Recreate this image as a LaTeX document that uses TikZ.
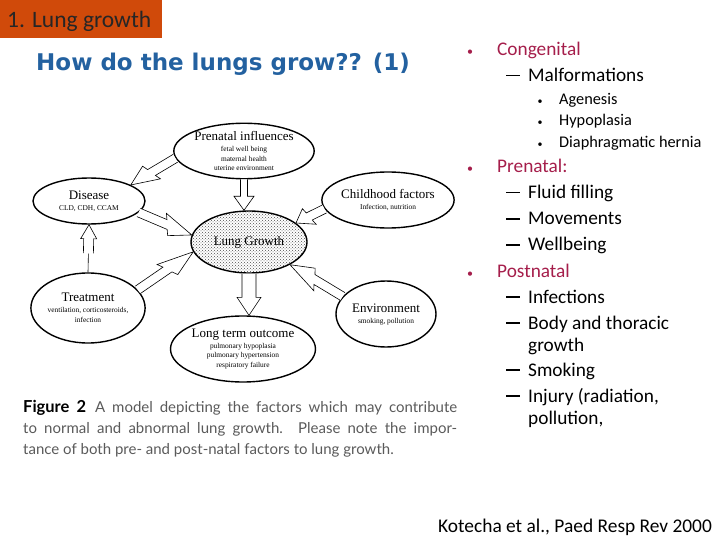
\documentclass[tikz,border=0pt]{standalone}
\usepackage{fontspec}
\setmainfont{Carlito}
\newfontfamily\serif{Liberation Serif}
\newfontfamily\capfont{Lato}
\newfontfamily\ttlfont{DejaVu Sans}
\usetikzlibrary{shapes.geometric,calc,patterns}
\definecolor{boxorange}{RGB}{208,74,10}
\definecolor{titleblue}{RGB}{35,97,160}
\definecolor{crimson}{RGB}{165,30,75}
\definecolor{capgray}{RGB}{90,90,90}
\newcommand\ttlf{\serif\fontsize{13}{13.5}\selectfont}
\newcommand\smlf{\serif\fontsize{7.4}{9.5}\selectfont}
% lightning arrow from tail #1 to tip #2
\newcommand\boltarr[2]{%
  \draw[arr] ($(#1)!4.5pt!90:(#2)$) -- ($(#1)!0.5!(#2)!4.5pt!90:(#2)$) -- ($(#1)!0.45!(#2)!10pt!90:(#2)$) -- (#2)
    -- ($(#1)!0.62!(#2)!10pt!-90:(#2)$) -- ($(#1)!0.57!(#2)!4.5pt!-90:(#2)$) -- ($(#1)!4.5pt!-90:(#2)$);}
% block arrow: tail, tip, shaft half, head half, head length
\newcommand\blockarr[5]{%
  \draw[arr] ($(#1)!#3!90:(#2)$) -- ($(#2)!#5!(#1)!#3!-90:(#1)$) -- ($(#2)!#5!(#1)!#4!-90:(#1)$) -- (#2)
    -- ($(#2)!#5!(#1)!#4!90:(#1)$) -- ($(#2)!#5!(#1)!#3!90:(#1)$) -- ($(#1)!#3!-90:(#2)$);}
\begin{document}
\begin{tikzpicture}[x=1pt,y=-1pt,
  ell/.style={ellipse, draw, line width=1.4pt, inner sep=0pt, align=center, fill=white},
  arr/.style={line width=0.6pt, fill=white, line join=miter},
  lone/.style={anchor=base west, inner sep=0pt, font=\fontsize{19.3}{21}\selectfont},
  bull/.style={anchor=base, inner sep=0pt, font=\fontsize{12}{13}\selectfont},
  sbull/.style={anchor=base, inner sep=0pt, font=\fontsize{10}{11}\selectfont},
  lthree/.style={anchor=base west, inner sep=0pt, font=\fontsize{16.3}{17}\selectfont}]
\useasboundingbox (0,0) rectangle (720,540);

% header
\node[fill=boxorange, minimum width=162pt, minimum height=38pt, inner sep=0pt, anchor=north west] (hbox) at (0,0) {};
\node[anchor=base west, inner sep=0pt, text=black!85, font=\fontsize{23.5}{25}\selectfont] (htext) at (7,27.5) {1. Lung growth};
\node[anchor=base west, inner sep=0pt, text=titleblue, font=\ttlfont\bfseries\fontsize{23}{26}\selectfont] (title) at (36,71) {How do the lungs grow?? (1)};

% diagram
\node[ell, minimum width=126pt, minimum height=54pt] (pre) at (244,151)
  {\ttlf Prenatal influences\\[-1pt] \smlf fetal well being\\[-2.5pt] \smlf maternal health\\[-2.5pt] \smlf uterine environment};
\node[ell, minimum width=112pt, minimum height=46pt] (dis) at (89,201)
  {\ttlf Disease\\[-1pt] \smlf CLD, CDH, CCAM};
\node[ell, minimum width=106pt, minimum height=56pt] (chi) at (388,200)
  {\ttlf Childhood factors\\[-1pt] \smlf Infection, nutrition};
\node[ell, minimum width=116pt, minimum height=62pt, pattern=crosshatch dots, pattern color=black!70] (lung) at (249,242)
  {\ttlf Lung Growth};
\node[ell, minimum width=108pt, minimum height=70pt] (tre) at (88,308)
  {\ttlf Treatment\\[-1pt] \smlf ventilation, corticosteroids,\\[-2.5pt] \smlf infection};
\node[ell, minimum width=100pt, minimum height=66pt] (env) at (386,314)
  {\ttlf Environment\\[-1pt] \smlf smoking, pollution};
\node[ell, minimum width=122pt, minimum height=66pt] (lto) at (243,349)
  {\ttlf Long term outcome\\[-1pt] \smlf pulmonary hypoplasia\\[-2.5pt] \smlf pulmonary hypertension\\[-2.5pt] \smlf respiratory failure};

\boltarr{pre.186}{dis.21}
\blockarr{pre.south}{pre.south |- lung.north}{3.5pt}{10pt}{14pt}
\boltarr{dis.-13}{lung.173}
\boltarr{chi.188}{lung.22}
\boltarr{tre.20}{lung.190}
\boltarr{env.158}{lung.-29}
\blockarr{lung.south}{lung.south |- lto.north}{7pt}{12pt}{18pt}
\coordinate (stem) at ($(tre.north)!0.4!(dis.south)$);
\draw[line width=0.6pt] (tre.north) -- (stem);
\blockarr{stem}{dis.south}{5pt}{8pt}{14pt}

% caption
\node[anchor=north west, inner sep=0pt, text width=434pt, align=justify, text=capgray,
  font=\capfont\fontsize{15}{21}\selectfont] (cap) at (23,400)
  {{\color{black}\bfseries\fontsize{16.5}{21}\selectfont Figure 2}\hspace{9pt}A model depicting the factors which may contribute\linebreak
   to normal and abnormal lung growth. Please note the impor-\linebreak
   tance of both pre- and post-natal factors to lung growth.};

% bullet list
\node[bull, text=crimson] (b1) at (470,56) {•};
\node[lone, text=crimson] (t1) at (497,56) {Congenital};
\node[lone] (d11) at (506,82) {\rule[5.5pt]{14pt}{1.6pt}};
\node[lone] (t11) at (528,82) {Malformations};
\node[sbull] (s1) at (540,105) {•};
\node[lthree] (u1) at (559,105) {Agenesis};
\node[sbull] (s2) at (540,126) {•};
\node[lthree] (u2) at (559,126) {Hypoplasia};
\node[sbull] (s3) at (540,148) {•};
\node[lthree] (u3) at (559,148) {Diaphragmatic hernia};

\node[bull, text=crimson] (b2) at (470,173) {•};
\node[lone, text=crimson] (t2) at (497,173) {Prenatal:};
\node[lone] (d21) at (506,199) {\rule[5.5pt]{14pt}{1.6pt}};
\node[lone] (t21) at (528,199) {Fluid filling};
\node[lone] (d22) at (506,225) {\rule[5.5pt]{14pt}{1.6pt}};
\node[lone] (t22) at (528,225) {Movements};
\node[lone] (d23) at (506,251) {\rule[5.5pt]{14pt}{1.6pt}};
\node[lone] (t23) at (528,251) {Wellbeing};

\node[bull, text=crimson] (b3) at (470,277) {•};
\node[lone, text=crimson] (t3) at (497,277) {Postnatal};
\node[lone] (d31) at (506,303) {\rule[5.5pt]{14pt}{1.6pt}};
\node[lone] (t31) at (528,303) {Infections};
\node[lone] (d32) at (506,329) {\rule[5.5pt]{14pt}{1.6pt}};
\node[lone] (t32) at (528,329) {Body and thoracic};
\node[lone] (t32b) at (528,351) {growth};
\node[lone] (d33) at (506,376) {\rule[5.5pt]{14pt}{1.6pt}};
\node[lone] (t33) at (528,376) {Smoking};
\node[lone] (d34) at (506,402) {\rule[5.5pt]{14pt}{1.6pt}};
\node[lone] (t34) at (528,402) {Injury (radiation,};
\node[lone] (t34b) at (528,424) {pollution,};

% citation
\node[anchor=base west, inner sep=0pt, font=\fontsize{19.4}{21}\selectfont] (cite) at (438,532) {Kotecha et al., Paed Resp Rev 2000};
\end{tikzpicture}
\end{document}
